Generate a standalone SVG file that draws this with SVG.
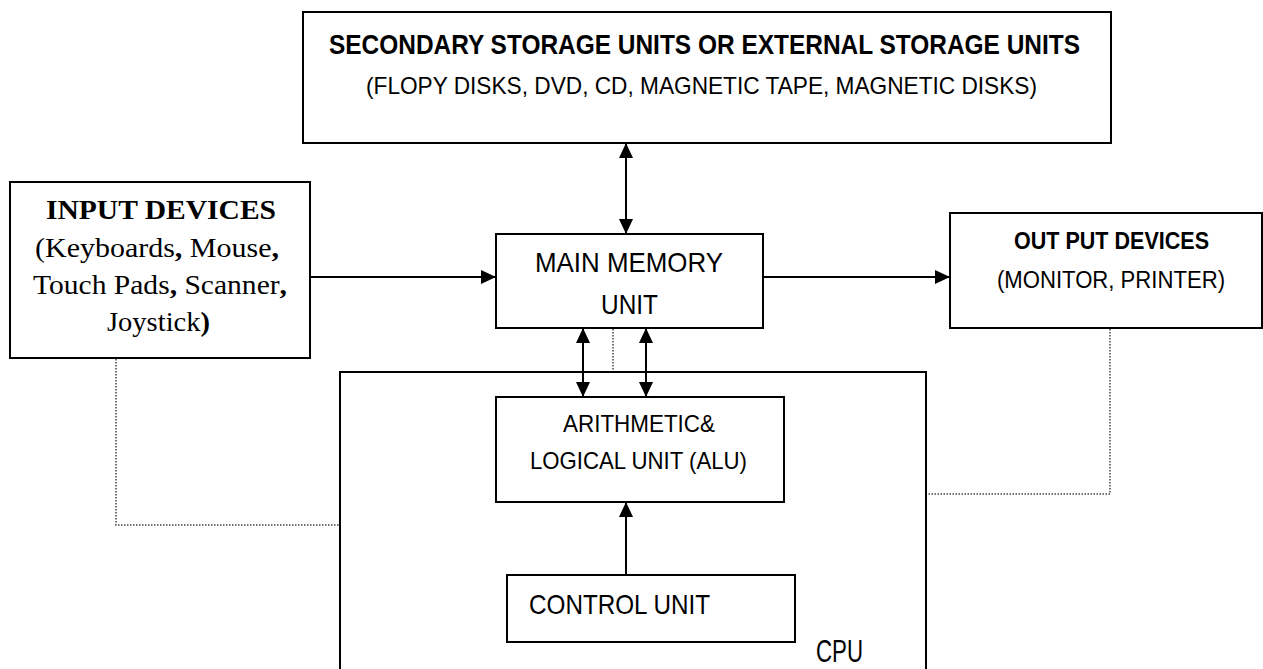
<svg xmlns="http://www.w3.org/2000/svg" width="1263" height="669" viewBox="0 0 1263 669">
<style>
.box{fill:#fff;stroke:#000;stroke-width:2}
.ln{fill:none;stroke:#000;stroke-width:2}
.dot{fill:none;stroke:#444;stroke-width:1.5;stroke-dasharray:1.5 1.5}
.nar{font-family:"Liberation Sans Narrow","Arial Narrow","Liberation Sans",sans-serif;fill:#000}
.cal{font-family:"Liberation Sans","Noto Sans",sans-serif;fill:#000}
.tim{font-family:"Liberation Serif","Times New Roman",serif;fill:#000}
.b{font-weight:bold}
</style>
<defs>
<marker id="ah" viewBox="0 0 15 14" refX="15" refY="7" markerWidth="15" markerHeight="14" markerUnits="userSpaceOnUse" orient="auto-start-reverse">
<path d="M0,0 L15,7 L0,14 z" fill="#000"/>
</marker>
</defs>
<rect width="1263" height="669" fill="#fff"/>
<g id="secondary-storage">
<rect class="box" x="303" y="12" width="808" height="131"/>
<text class="nar b" x="329" y="54" font-size="28" textLength="751" lengthAdjust="spacingAndGlyphs">SECONDARY STORAGE UNITS OR EXTERNAL STORAGE UNITS</text>
<text class="nar" x="366" y="94" font-size="24" textLength="671" lengthAdjust="spacingAndGlyphs">(FLOPY DISKS, DVD, CD, MAGNETIC TAPE, MAGNETIC DISKS)</text>
</g>
<g id="input-devices">
<rect class="box" x="10" y="182" width="300" height="176"/>
<text class="tim b" x="46" y="219" font-size="27" textLength="230" lengthAdjust="spacingAndGlyphs">INPUT DEVICES</text>
<text class="tim" x="35" y="257" font-size="27" textLength="244" lengthAdjust="spacingAndGlyphs">(Keyboards<tspan class="b">,</tspan> Mouse<tspan class="b">,</tspan></text>
<text class="tim" x="33" y="294" font-size="27" textLength="254" lengthAdjust="spacingAndGlyphs">Touch Pads<tspan class="b">,</tspan> Scanner<tspan class="b">,</tspan></text>
<text class="tim" x="107" y="331" font-size="27" textLength="103" lengthAdjust="spacingAndGlyphs">Joystick<tspan class="b">)</tspan></text>
</g>
<g id="main-memory">
<rect class="box" x="496" y="234" width="267" height="94"/>
<text class="cal" x="535" y="272" font-size="28" textLength="188" lengthAdjust="spacingAndGlyphs">MAIN MEMORY</text>
<text class="cal" x="601" y="314" font-size="28" textLength="57" lengthAdjust="spacingAndGlyphs">UNIT</text>
</g>
<g id="output-devices">
<rect class="box" x="950" y="213" width="312" height="115"/>
<text class="nar b" x="1014" y="249" font-size="23" textLength="195" lengthAdjust="spacingAndGlyphs">OUT PUT DEVICES</text>
<text class="nar" x="997" y="288" font-size="23" textLength="228" lengthAdjust="spacingAndGlyphs">(MONITOR, PRINTER)</text>
</g>
<g id="cpu">
<rect class="box" x="340" y="372" width="586" height="310"/>
<text class="nar" x="816" y="662" font-size="31" textLength="47" lengthAdjust="spacingAndGlyphs">CPU</text>
</g>
<g id="alu">
<rect class="box" x="496" y="397" width="288" height="105"/>
<text class="nar" x="563" y="432" font-size="24" textLength="152" lengthAdjust="spacingAndGlyphs">ARITHMETIC&amp;</text>
<text class="nar" x="530" y="469" font-size="24" textLength="217" lengthAdjust="spacingAndGlyphs">LOGICAL UNIT (ALU)</text>
</g>
<g id="control-unit">
<rect class="box" x="507" y="575" width="288" height="67"/>
<text class="nar" x="529" y="614" font-size="28" textLength="181" lengthAdjust="spacingAndGlyphs">CONTROL UNIT</text>
</g>
<g id="connectors">
<line class="ln" x1="626" y1="143" x2="626" y2="234" marker-start="url(#ah)" marker-end="url(#ah)"/>
<line class="ln" x1="310" y1="277" x2="496" y2="277" marker-end="url(#ah)"/>
<line class="ln" x1="763" y1="277" x2="950" y2="277" marker-end="url(#ah)"/>
<line class="ln" x1="583" y1="328" x2="583" y2="397" marker-start="url(#ah)" marker-end="url(#ah)"/>
<line class="ln" x1="646" y1="328" x2="646" y2="397" marker-start="url(#ah)" marker-end="url(#ah)"/>
<line class="ln" x1="626" y1="575" x2="626" y2="502" marker-end="url(#ah)"/>
<polyline class="dot" points="613,329 613,370"/>
<polyline class="dot" points="116,359 116,525 339,525"/>
<polyline class="dot" points="1110,329 1110,494 927,494"/>
</g>
</svg>
